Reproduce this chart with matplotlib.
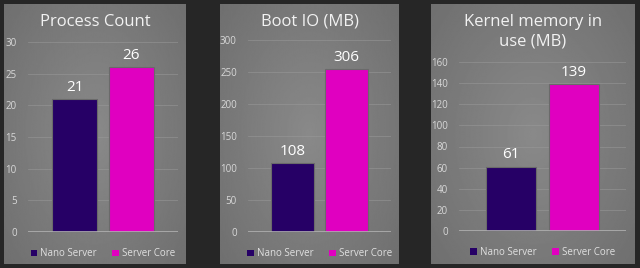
import numpy as np
import matplotlib.pyplot as plt
from matplotlib.patches import Patch

# data
series = ["Nano Server", "Server Core"]
titles = ["Process Count", "Boot IO (MB)", "Kernel memory in\nuse (MB)"]
process_count = [21, 26]
boot_io = [108, 255]          # drawn height of the bars
boot_io_labels = ["108", "306"]  # labels shown above them
kernel_mem = [61, 139]
ymax = [30, 300, 160]
ystep = [5, 50, 20]

values = [process_count, boot_io, kernel_mem]
labels = [[str(v) for v in process_count], boot_io_labels, [str(v) for v in kernel_mem]]
colors = ["#260066", "#e000c0"]

W, H = 640, 268
plt.rcParams["font.family"] = ["Open Sans", "DejaVu Sans"]

fig = plt.figure(figsize=(W / 100, H / 100), dpi=100, facecolor="#262626")


def rect(x0, y0, x1, y1):
    # pixel box (top-left origin) -> figure fraction
    return [x0 / W, 1 - y1 / H, (x1 - x0) / W, (y1 - y0) / H]


panels = [(4, 186), (220, 399), (431, 635)]
plots = [(28, 42, 178, 232), (248, 40, 391, 232), (459, 62, 626, 231)]
title_y = [22, 21, 32]

# radial grey gradient for the panel backgrounds
yy, xx = np.mgrid[-1:1:200j, -1:1:200j]
r = np.sqrt(xx ** 2 + (yy * 0.9) ** 2)
grad = np.clip(1 - r / 1.45, 0, 1)

for i in range(3):
    px0, px1 = panels[i]
    bg = fig.add_axes(rect(px0, 4, px1, 264))
    bg.imshow(grad, cmap="gray", vmin=-3.9, vmax=5.2, aspect="auto", extent=(0, 1, 0, 1))
    bg.set_axis_off()

    x0, y0, x1, y1 = plots[i]
    ax = fig.add_axes(rect(x0, y0, x1, y1))
    ax.set_facecolor("none")
    x = np.arange(len(series))
    bars = ax.bar(x, values[i], width=0.8, color=colors, edgecolor="#6a6a6a", linewidth=0.8, zorder=3)
    for b, lab in zip(bars, labels[i]):
        ax.annotate(lab, (b.get_x() + b.get_width() / 2, b.get_height()), xytext=(0, 3),
                    textcoords="offset points", ha="center", va="bottom",
                    color="white", fontsize=11)
    ax.set_xlim(-0.82, 1.82)
    ax.set_ylim(0, ymax[i])
    ax.set_yticks(np.arange(0, ymax[i] + 1, ystep[i]))
    ax.set_xticks([])
    ax.tick_params(axis="y", length=0, labelsize=7, labelcolor="#d8d8d8", pad=8)
    ax.grid(axis="y", color="#9a9a9a", linewidth=0.6, alpha=0.6, zorder=0)
    for s in ax.spines.values():
        s.set_visible(False)
    ax.axhline(0, color="#b0b0b0", linewidth=1.2, zorder=4)

    handles = [Patch(facecolor=c, edgecolor="none", label=s) for c, s in zip(colors, series)]
    ax.legend(handles=handles, loc="upper center", bbox_to_anchor=(0.5, -0.04), ncol=2,
              frameon=False, fontsize=7, labelcolor="#e0e0e0", handlelength=0.7,
              handleheight=0.7, handletextpad=0.3, columnspacing=1.6)

    fig.text((px0 + px1) / 2 / W, 1 - title_y[i] / H, titles[i], ha="center", va="center",
             color="#f2f2f2", fontsize=12, linespacing=1.25)

fig.savefig("out.png", dpi=100, facecolor=fig.get_facecolor())
